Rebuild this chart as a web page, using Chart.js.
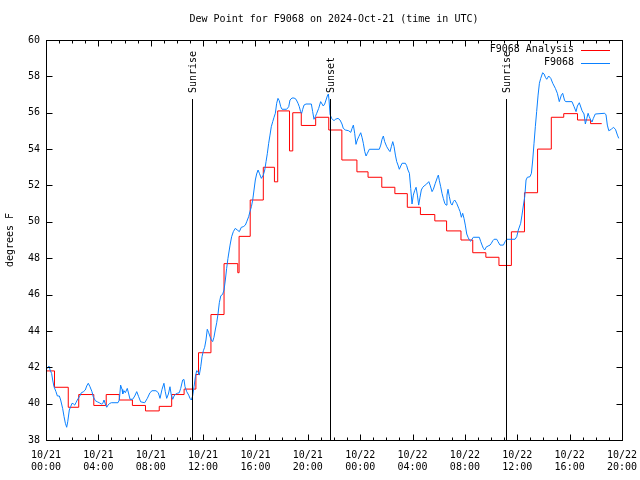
<!DOCTYPE html>
<html>
<head>
<meta charset="utf-8">
<script src="https://cdn.jsdelivr.net/npm/chart.js@4.4.0/dist/chart.umd.min.js"></script>
<style>
  body { margin: 0; background: #fff; }
</style>
</head>
<body>
<canvas id="chart" width="640" height="480"></canvas>
<script>
// hours since 10/21 00:00 UTC
const redHours = [0, 0.65, 1.7, 2.5, 3.65, 4.6, 5.6, 6.6, 7.6, 8.65, 9.6, 10.55, 11.45, 11.65, 12.6, 13.6, 14.65, 14.75, 15.6, 16.6, 17.45, 17.7, 18.6, 18.85, 19.5, 20.6, 21.6, 22.6, 23.75, 24.6, 25.65, 26.65, 27.6, 28.6, 29.7, 30.6, 31.7, 32.6, 33.6, 34.6, 35.55, 36.55, 37.55, 38.6, 39.55, 40.6, 41.6, 42.45];
const redValues = [41.8, 40.9, 39.8, 40.5, 39.9, 40.5, 40.2, 39.9, 39.6, 39.85, 40.5, 40.8, 41.6, 42.8, 44.9, 47.7, 47.2, 49.2, 51.2, 53.0, 52.2, 56.1, 53.9, 56.0, 55.3, 55.75, 55.05, 53.4, 52.75, 52.45, 51.9, 51.55, 50.8, 50.4, 50.05, 49.5, 49.0, 48.3, 48.05, 47.6, 49.45, 51.6, 54.0, 55.75, 55.95, 55.6, 55.4, 55.4];

const blueHours = [0, 0.1, 0.23, 0.31, 0.43, 0.51, 0.61, 0.76, 0.87, 1.02, 1.12, 1.27, 1.38, 1.48, 1.58, 1.66, 1.78, 1.88, 1.99, 2.09, 2.19, 2.29, 2.39, 2.55, 2.7, 2.85, 3.0, 3.11, 3.23, 3.36, 3.51, 3.61, 3.77, 3.92, 4.07, 4.23, 4.33, 4.43, 4.53, 4.64, 4.74, 4.84, 4.99, 5.5, 5.6, 5.7, 5.81, 5.86, 5.96, 6.06, 6.21, 6.32, 6.42, 6.62, 6.78, 6.93, 7.08, 7.23, 7.54, 7.74, 7.94, 8.1, 8.4, 8.58, 8.71, 8.86, 9.01, 9.11, 9.22, 9.35, 9.47, 9.57, 9.68, 9.78, 9.88, 10.03, 10.18, 10.29, 10.44, 10.54, 10.62, 10.75, 10.9, 11.0, 11.1, 11.2, 11.31, 11.41, 11.51, 11.61, 11.71, 11.82, 11.92, 12.02, 12.12, 12.22, 12.32, 12.43, 12.53, 12.63, 12.73, 12.83, 12.93, 13.04, 13.14, 13.24, 13.35, 13.5, 13.6, 13.7, 13.8, 13.9, 14.0, 14.06, 14.18, 14.31, 14.46, 14.61, 14.77, 14.92, 15.07, 15.23, 15.33, 15.48, 15.58, 15.69, 15.79, 15.89, 15.99, 16.09, 16.2, 16.3, 16.45, 16.6, 16.71, 16.81, 16.91, 17.01, 17.11, 17.21, 17.32, 17.42, 17.52, 17.62, 17.72, 17.82, 17.93, 18.03, 18.38, 18.54, 18.64, 18.79, 18.95, 19.1, 19.25, 19.35, 19.45, 19.53, 19.61, 19.71, 19.86, 20.27, 20.37, 20.47, 20.57, 20.68, 20.83, 20.98, 21.09, 21.18, 21.29, 21.39, 21.49, 21.57, 21.62, 21.7, 21.82, 22.0, 22.1, 22.31, 22.46, 22.61, 22.71, 22.87, 23.12, 23.28, 23.38, 23.48, 23.58, 23.68, 23.78, 23.89, 24.04, 24.14, 24.24, 24.35, 24.45, 24.55, 24.7, 25.46, 25.57, 25.67, 25.77, 25.87, 26.03, 26.18, 26.28, 26.38, 26.49, 26.59, 26.69, 26.79, 26.89, 26.99, 27.1, 27.2, 27.45, 27.55, 27.65, 27.76, 27.86, 27.96, 28.06, 28.16, 28.27, 28.37, 28.47, 28.57, 28.67, 28.78, 28.88, 29.08, 29.24, 29.34, 29.49, 29.59, 29.74, 29.9, 29.97, 30.05, 30.15, 30.25, 30.35, 30.46, 30.56, 30.63, 30.71, 30.81, 30.92, 31.02, 31.12, 31.22, 31.37, 31.53, 31.63, 31.73, 31.83, 31.93, 32.03, 32.14, 32.24, 32.34, 32.44, 32.54, 32.64, 33.1, 33.21, 33.31, 33.41, 33.51, 33.61, 33.77, 33.92, 34.02, 34.13, 34.23, 34.43, 34.53, 34.68, 34.94, 35.07, 35.2, 35.83, 35.96, 36.08, 36.26, 36.36, 36.46, 36.57, 36.67, 36.77, 36.97, 37.08, 37.18, 37.28, 37.38, 37.48, 37.59, 37.69, 37.79, 37.94, 38.05, 38.15, 38.25, 38.4, 38.56, 38.71, 38.91, 39.06, 39.21, 39.37, 39.47, 39.62, 39.72, 40.18, 40.34, 40.49, 40.59, 40.74, 40.95, 41.1, 41.2, 41.31, 41.41, 41.5, 41.61, 41.71, 41.81, 41.96, 42.68, 42.78, 42.88, 42.99, 43.19, 43.34, 43.5, 43.65, 43.75];
const blueValues = [41.9, 41.94, 42.07, 41.85, 41.66, 41.3, 40.93, 40.66, 40.42, 40.42, 40.2, 39.74, 39.28, 38.92, 38.7, 39.0, 39.65, 39.83, 40.02, 39.99, 39.92, 40.05, 40.2, 40.38, 40.6, 40.65, 40.75, 40.97, 41.12, 40.93, 40.66, 40.38, 40.16, 40.1, 40.05, 39.98, 40.0, 40.2, 39.98, 39.8, 39.92, 40.0, 40.05, 40.05, 40.2, 41.02, 40.78, 40.53, 40.71, 40.6, 40.84, 40.53, 40.24, 40.24, 40.42, 40.66, 40.38, 40.1, 40.05, 40.29, 40.6, 40.71, 40.71, 40.6, 40.29, 40.78, 41.12, 40.66, 40.29, 40.53, 40.93, 40.47, 40.24, 40.42, 40.51, 40.57, 40.6, 40.84, 41.3, 41.33, 40.93, 40.66, 40.47, 40.29, 40.2, 40.42, 40.93, 41.48, 41.81, 41.76, 41.57, 42.03, 42.58, 42.91, 43.1, 43.5, 44.09, 43.9, 43.68, 43.5, 43.41, 43.65, 44.05, 44.45, 44.93, 45.55, 45.92, 46.03, 46.25, 46.8, 47.44, 47.99, 48.45, 48.72, 49.18, 49.46, 49.64, 49.55, 49.46, 49.7, 49.73, 49.82, 50.0, 50.28, 50.56, 50.83, 51.2, 51.75, 52.3, 52.63, 52.85, 52.67, 52.39, 52.57, 52.85, 53.31, 53.77, 54.32, 54.77, 55.23, 55.51, 55.75, 55.97, 56.52, 56.79, 56.66, 56.33, 56.19, 56.19, 56.33, 56.7, 56.81, 56.81, 56.74, 56.52, 56.33, 56.06, 55.97, 56.19, 56.42, 56.48, 56.48, 56.06, 55.64, 55.78, 55.97, 56.24, 56.61, 56.48, 56.37, 56.48, 56.7, 56.92, 57.03, 56.7, 55.9, 55.69, 55.56, 55.64, 55.69, 55.6, 55.38, 55.14, 55.05, 55.01, 54.92, 55.14, 55.32, 54.87, 54.26, 54.5, 54.68, 54.9, 54.65, 54.32, 53.86, 53.62, 53.77, 53.99, 53.99, 54.22, 54.54, 54.72, 54.41, 54.13, 53.95, 53.86, 54.13, 54.41, 54.13, 53.67, 53.31, 53.12, 52.89, 53.07, 53.22, 53.22, 53.09, 52.85, 52.67, 51.84, 50.98, 51.47, 51.71, 51.9, 51.47, 50.92, 51.35, 51.75, 51.9, 51.97, 52.08, 52.21, 52.02, 51.66, 51.79, 52.12, 52.45, 52.57, 52.26, 51.93, 51.57, 51.29, 51.02, 50.92, 51.47, 51.79, 51.38, 51.02, 50.92, 51.11, 51.2, 51.02, 50.74, 50.56, 50.25, 50.47, 50.19, 49.82, 49.33, 49.15, 49.0, 48.93, 49.04, 49.15, 49.15, 48.91, 48.72, 48.54, 48.45, 48.6, 48.67, 48.72, 48.82, 48.96, 49.04, 49.04, 48.91, 48.72, 48.72, 48.91, 49.04, 49.04, 49.18, 49.55, 49.92, 50.37, 50.87, 51.38, 52.3, 52.45, 52.48, 52.67, 53.4, 54.32, 55.23, 56.06, 56.97, 57.62, 57.89, 58.2, 58.13, 57.95, 57.84, 58.02, 57.89, 57.62, 57.34, 57.07, 56.61, 56.97, 57.07, 56.66, 56.61, 56.61, 56.33, 56.06, 56.37, 56.55, 56.11, 55.93, 55.38, 55.69, 55.97, 55.78, 55.6, 55.49, 55.69, 55.93, 55.97, 55.88, 55.32, 55.01, 55.09, 55.2, 55.09, 54.77, 54.59];

const xTickDates = ['10/21', '10/21', '10/21', '10/21', '10/21', '10/21', '10/22', '10/22', '10/22', '10/22', '10/22', '10/22'];
const xTickTimes = ['00:00', '04:00', '08:00', '12:00', '16:00', '20:00', '00:00', '04:00', '08:00', '12:00', '16:00', '20:00'];

const sunHours = [11.15, 21.73, 35.14];
const sunLabels = ['Sunrise', 'Sunset', 'Sunrise'];

const seriesLabels = ['F9068 Analysis', 'F9068'];
const seriesColors = ['#ff0000', '#0a80ff'];
const chartTitle = 'Dew Point for F9068 on 2024-Oct-21 (time in UTC)';

const monoFont = "'DejaVu Sans Mono', 'Liberation Mono', monospace";

function toPoints(xs, ys) {
    return xs.map((x, i) => ({ x: x, y: ys[i] }));
}

// gnuplot style frame, inward ticks, sun lines, title and legend
const gnuplotDecor = {
    id: 'gnuplotDecor',
    afterDatasetsDraw(chart) {
        const ctx = chart.ctx;
        const area = chart.chartArea;
        const xs = chart.scales.x;
        const ys = chart.scales.y;
        const L = Math.round(area.left) + 0.5;
        const R = Math.round(area.right) + 0.5;
        const T = Math.round(area.top) + 0.5;
        const B = Math.round(area.bottom) + 0.5;
        ctx.save();
        ctx.strokeStyle = '#000';
        ctx.lineWidth = 1;
        ctx.font = '10px ' + monoFont;
        ctx.fillStyle = '#000';

        // title, centred over the plot area
        ctx.textAlign = 'center';
        ctx.textBaseline = 'middle';
        ctx.fillText(chartTitle, (area.left + area.right) / 2, 19);

        // sunrise / sunset
        sunHours.forEach((h, i) => {
            const px = Math.round(xs.getPixelForValue(h)) + 0.5;
            ctx.beginPath();
            ctx.moveTo(px, 99);
            ctx.lineTo(px, B);
            ctx.stroke();
            ctx.save();
            ctx.translate(px + 1, 93);
            ctx.rotate(-Math.PI / 2);
            ctx.textAlign = 'left';
            ctx.textBaseline = 'middle';
            ctx.fillText(sunLabels[i], 0, 0);
            ctx.restore();
        });

        // frame
        ctx.strokeRect(L, T, R - L, B - T);

        // x ticks every hour, longer every 4 hours; y ticks every 2
        ctx.beginPath();
        for (let h = xs.min; h <= xs.max; h++) {
            const px = Math.round(xs.getPixelForValue(h)) + 0.5;
            const len = h % 4 === 0 ? 6 : 3;
            ctx.moveTo(px, B); ctx.lineTo(px, B - len);
            ctx.moveTo(px, T); ctx.lineTo(px, T + len);
        }
        for (let v = ys.min; v <= ys.max; v += 2) {
            const py = Math.round(ys.getPixelForValue(v)) + 0.5;
            ctx.moveTo(L, py); ctx.lineTo(L + 6, py);
            ctx.moveTo(R, py); ctx.lineTo(R - 6, py);
        }
        ctx.stroke();

        // legend
        ctx.textAlign = 'right';
        seriesLabels.forEach((lab, i) => {
            const y = T + 9 + i * 13;
            ctx.fillStyle = '#000';
            ctx.fillText(lab, 574, y);
            ctx.strokeStyle = seriesColors[i];
            ctx.beginPath();
            ctx.moveTo(581, Math.round(y) + 0.5);
            ctx.lineTo(610, Math.round(y) + 0.5);
            ctx.stroke();
        });
        ctx.restore();
    }
};

const ctx = document.getElementById('chart');
new Chart(ctx, {
    type: 'line',
    data: {
        datasets: [{
            label: seriesLabels[0],
            data: toPoints(redHours, redValues),
            borderColor: seriesColors[0],
            borderWidth: 1,
            stepped: 'before',
            pointRadius: 0,
            order: 1,
        }, {
            label: seriesLabels[1],
            data: toPoints(blueHours, blueValues),
            borderColor: seriesColors[1],
            borderWidth: 1,
            pointRadius: 0,
            tension: 0,
            order: 0,
        }]
    },
    options: {
        responsive: false,
        animation: false,
        devicePixelRatio: 1,
        layout: {
            padding: { top: 40, right: 18, left: 0, bottom: 0 }
        },
        scales: {
            x: {
                type: 'linear',
                min: 0,
                max: 44,
                grid: { display: false, drawTicks: false },
                border: { display: false },
                afterFit(scale) {
                    scale.height = 40;
                    scale.paddingLeft = 0;
                    scale.paddingRight = 0;
                },
                ticks: {
                    stepSize: 4,
                    autoSkip: false,
                    maxRotation: 0,
                    padding: 9,
                    color: '#000',
                    font: { family: monoFont, size: 10, lineHeight: 1.2 },
                    callback: (value) => [xTickDates[value / 4], xTickTimes[value / 4]],
                },
            },
            y: {
                min: 38,
                max: 60,
                grid: { display: false, drawTicks: false },
                border: { display: false },
                afterFit(scale) {
                    scale.width = 46;
                    scale.paddingTop = 0;
                    scale.paddingBottom = 0;
                },
                ticks: {
                    stepSize: 2,
                    padding: 6,
                    color: '#000',
                    font: { family: monoFont, size: 10 },
                },
                title: {
                    display: true,
                    text: 'degrees F',
                    color: '#000',
                    font: { family: monoFont, size: 10 },
                },
            },
        },
        plugins: {
            legend: { display: false },
            tooltip: { enabled: false },
            title: { display: false },
        },
    },
    plugins: [gnuplotDecor]
});
</script>
</body>
</html>
